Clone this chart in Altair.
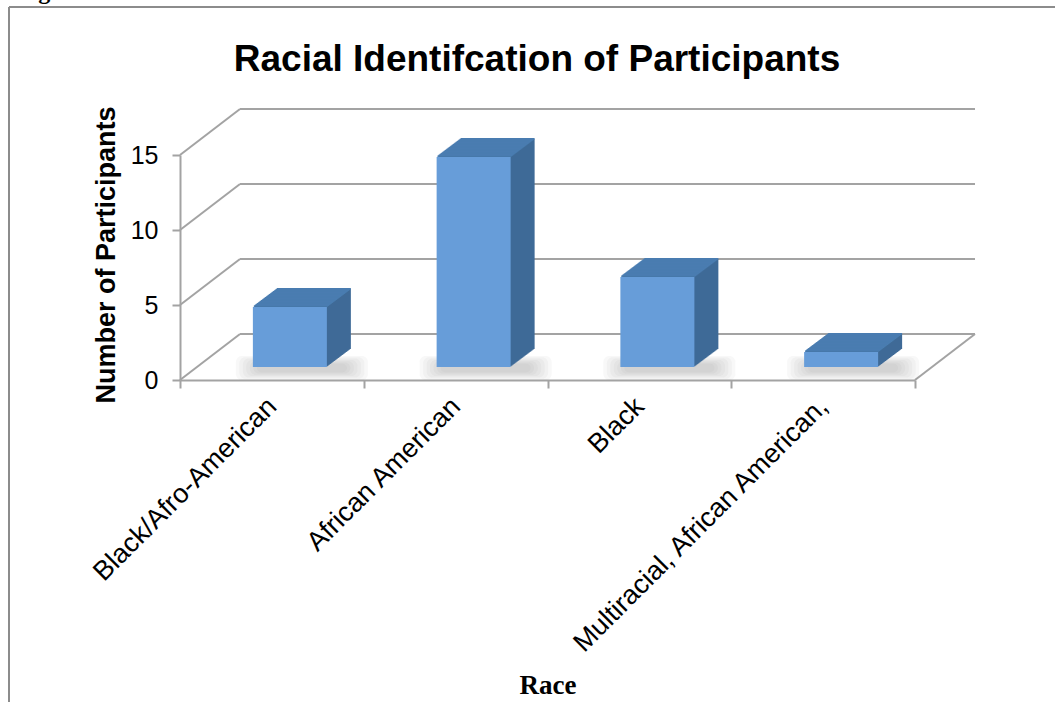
import altair as alt
import pandas as pd

# ---- data ----
categories = ["Black/Afro-American", "African American", "Black", "Multiracial, African American,"]
counts = [4, 14, 6, 1]
y_ticks = [0, 5, 10, 15]

chart_title = "Racial Identifcation of Participants"
y_title = "Number of Participants"
x_title = "Race"

df = pd.DataFrame({"race": categories, "count": counts})
grid_df = pd.DataFrame({"v": y_ticks})

# ---- geometry / style ----
W, H = 735, 225
PAD_L, PAD_T = 180, 155
DX, DY = 60, -46          # depth of the back wall
BX, BY = 18, -13          # bar front-face offset from the front plane
BW = 74                   # bar width in px
DEPTH = 24                # bar extrusion (px in x)
FRONT = "#679dd9"
TOP = "#4a7db1"
SIDE = "#3f6b97"
GRID = "#a3a3a3"
FRAME = "#8c8c8c"

yscale = alt.Scale(domain=[0, 15], nice=False, zero=True)
xscale = alt.Scale(domain=categories, paddingInner=0, paddingOuter=0)

x_axis = alt.Axis(
    title=None, labelAngle=315, labelAlign="right", labelBaseline="middle",
    labelFont="Liberation Sans", labelFontSize=27, labelColor="black",
    labelPadding=14, tickBand="extent", tickSize=8, tickColor=GRID, tickWidth=2,
    domainColor=GRID, domainWidth=2, grid=False, labelLimit=600,
)
y_axis = alt.Axis(
    title=None, values=y_ticks, labelFont="Liberation Sans", labelFontSize=25,
    labelColor="black", labelPadding=14, tickSize=8, tickColor=GRID, tickWidth=2,
    domainColor=GRID, domainWidth=2, grid=False,
)

X = alt.X("race:N", sort=categories, scale=xscale, axis=x_axis)
Y = alt.Y("count:Q", scale=yscale, axis=y_axis)

one = alt.Data(values=[{}])
layers = []

# outer frame
layers.append(alt.Chart(one).mark_rule(color=FRAME, strokeWidth=2).encode(
    x=alt.value(-171), x2=alt.value(1055 - PAD_L + 5), y=alt.value(-148)))
layers.append(alt.Chart(one).mark_rule(color=FRAME, strokeWidth=2).encode(
    x=alt.value(-171), y=alt.value(-148), y2=alt.value(702 - PAD_T + 5)))

# caption text cut off at the top of the page
layers.append(alt.Chart(one).mark_text(
    font="Liberation Serif", fontSize=24, fontWeight="bold", align="left",
    baseline="alphabetic", color="black").encode(
    x=alt.value(17 - PAD_L), y=alt.value(-1 - PAD_T), text=alt.value("Figure")))

# back wall gridlines
layers.append(alt.Chart(grid_df).mark_rule(color=GRID, strokeWidth=2, yOffset=DY).encode(
    y=alt.Y("v:Q", scale=yscale, axis=y_axis), x=alt.value(DX), x2=alt.value(W + DX)))
# left wall diagonals
layers.append(alt.Chart(grid_df).mark_rule(color=GRID, strokeWidth=2, y2Offset=DY).encode(
    y=alt.Y("v:Q", scale=yscale, axis=y_axis), y2=alt.Y2("v:Q"),
    x=alt.value(0), x2=alt.value(DX)))
# floor right diagonal
layers.append(alt.Chart(one).mark_rule(color=GRID, strokeWidth=2, y2Offset=DY).encode(
    y=alt.datum(0, scale=yscale), y2=alt.datum(0),
    x=alt.value(W), x2=alt.value(W + DX)))

# soft shadows on the floor (stacked translucent layers)
for k in range(7):
    w = 132 - 7 * k
    half = 12 - 1.3 * k
    layers.append(alt.Chart(df).mark_bar(
        width=w, color="#6f6f6f", opacity=0.05, cornerRadius=6,
        xOffset=BX + 12, yOffset=-12 - half, y2Offset=-12 + half).encode(
        x=X, y=alt.datum(0, scale=yscale), y2=alt.datum(0)))

# extruded sides (stacked copies shifted back)
for i in range(DEPTH, 0, -1):
    ox = BX + i
    oy = BY - 0.75 * i
    layers.append(alt.Chart(df).mark_bar(
        width=BW, color=SIDE, xOffset=ox, yOffset=oy, y2Offset=oy).encode(
        x=X, y=Y, y2=alt.datum(0)))
# top faces
for i in range(DEPTH, 0, -1):
    ox = BX + i
    oy = BY - 0.75 * i
    layers.append(alt.Chart(df).mark_bar(
        width=BW, color=TOP, xOffset=ox, yOffset=oy - 1.0, y2Offset=oy + 0.6).encode(
        x=X, y=Y, y2=alt.Y2("count:Q")))
# front faces
layers.append(alt.Chart(df).mark_bar(
    width=BW, color=FRONT, xOffset=BX, yOffset=BY, y2Offset=BY).encode(
    x=X, y=Y, y2=alt.datum(0)))

# titles
layers.append(alt.Chart(one).mark_text(
    font="Liberation Sans", fontSize=37, fontWeight="bold", align="center",
    baseline="alphabetic", color="black").encode(
    x=alt.value(537 - PAD_L), y=alt.value(71 - PAD_T), text=alt.value(chart_title)))
layers.append(alt.Chart(one).mark_text(
    font="Liberation Sans", fontSize=27, fontWeight="bold", align="center",
    baseline="middle", angle=270, color="black").encode(
    x=alt.value(107 - PAD_L), y=alt.value(255 - PAD_T), text=alt.value(y_title)))
layers.append(alt.Chart(one).mark_text(
    font="Liberation Serif", fontSize=27, fontWeight="bold", align="center",
    baseline="alphabetic", color="black").encode(
    x=alt.value(548 - PAD_L), y=alt.value(694 - PAD_T), text=alt.value(x_title)))

chart = alt.layer(*layers).properties(
    width=W, height=H,
    background="white",
    autosize=alt.AutoSizeParams(type="none"),
    padding={"left": PAD_L, "top": PAD_T, "right": 1055 - PAD_L - W, "bottom": 702 - PAD_T - H},
).configure_view(stroke=None, strokeWidth=0)

chart.save("out.html", embed_options={"renderer": "svg", "actions": False})
